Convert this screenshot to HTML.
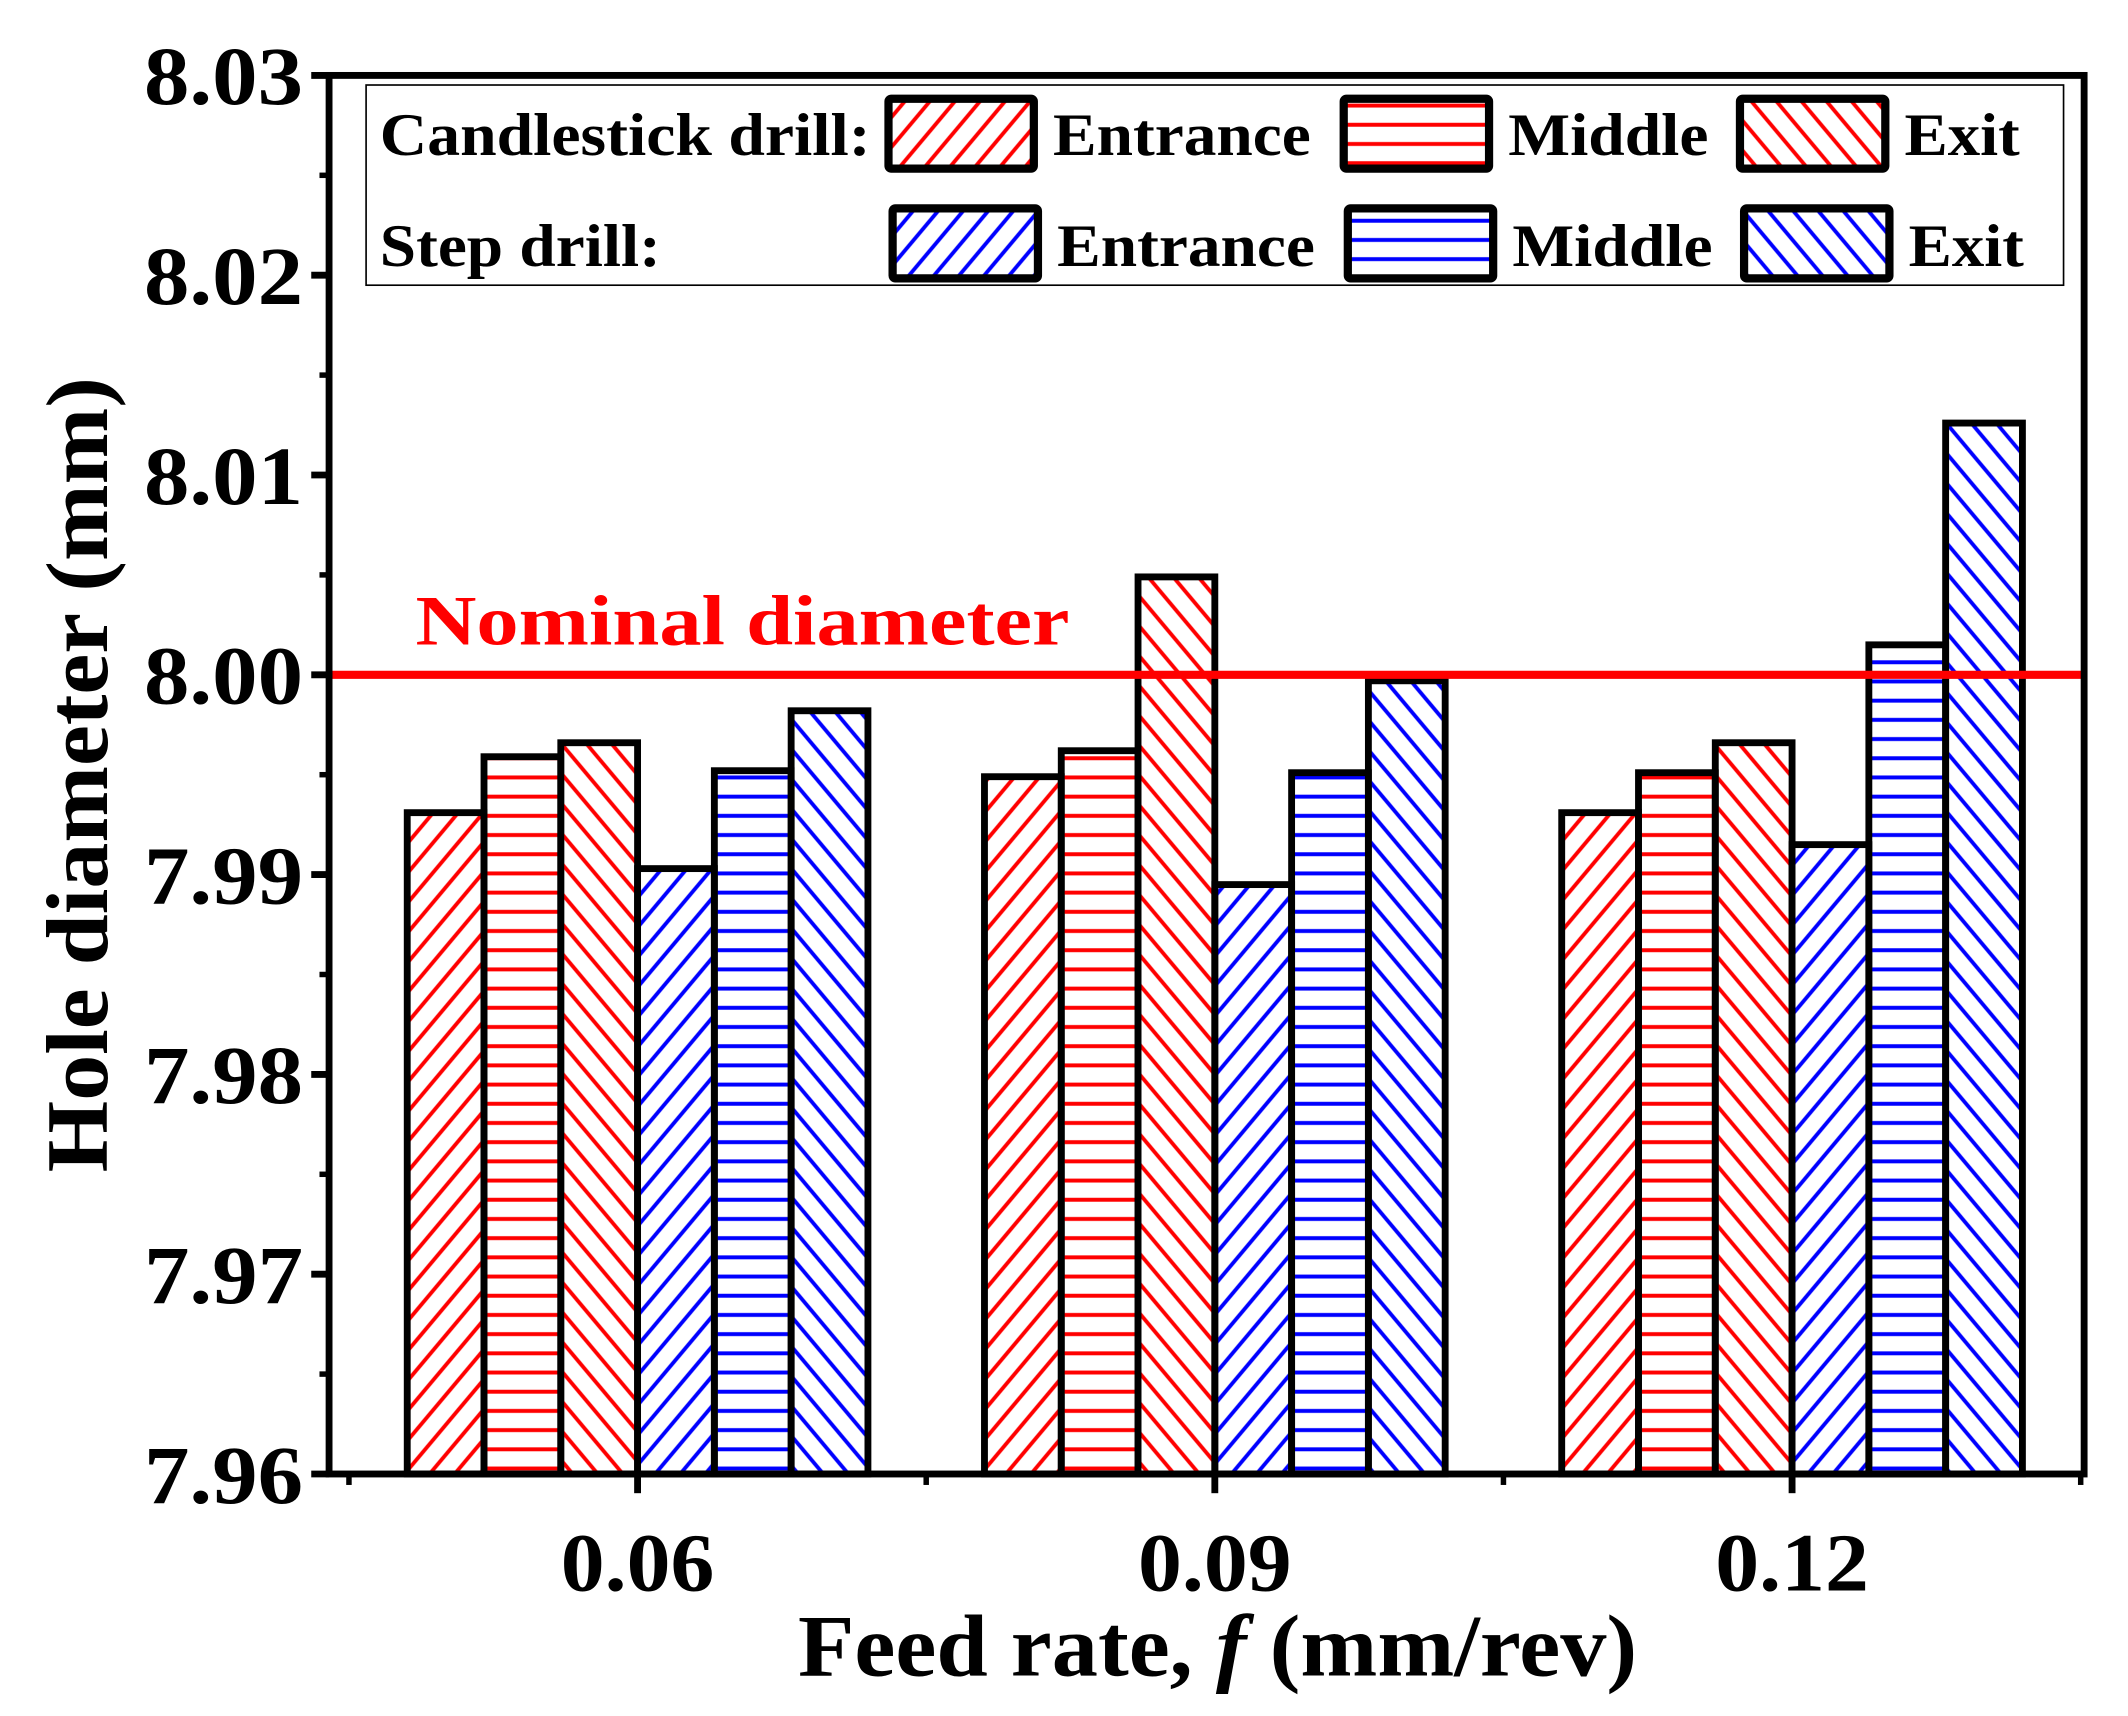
<!DOCTYPE html>
<html><head><meta charset="utf-8"><style>
html,body{margin:0;padding:0;background:#fff;}
svg{display:block;font-family:"Liberation Serif",serif;font-weight:bold;}
</style></head><body>
<svg id="chart" width="2128" height="1716" viewBox="0 0 1552 1251.5" preserveAspectRatio="none" xmlns="http://www.w3.org/2000/svg">
<defs>
<pattern id="pr-fwd" patternUnits="userSpaceOnUse" width="14" height="14" patternTransform="rotate(40)"><line x1="7" y1="0" x2="7" y2="14" stroke="#f00" stroke-width="2.8"/></pattern>
<pattern id="pr-hor" patternUnits="userSpaceOnUse" width="14" height="14"><line x1="0" y1="7" x2="14" y2="7" stroke="#f00" stroke-width="2.8"/></pattern>
<pattern id="pr-back" patternUnits="userSpaceOnUse" width="14" height="14" patternTransform="rotate(-40)"><line x1="7" y1="0" x2="7" y2="14" stroke="#f00" stroke-width="2.8"/></pattern>
<pattern id="pb-fwd" patternUnits="userSpaceOnUse" width="14" height="14" patternTransform="rotate(40)"><line x1="7" y1="0" x2="7" y2="14" stroke="#00f" stroke-width="2.8"/></pattern>
<pattern id="pb-hor" patternUnits="userSpaceOnUse" width="14" height="14"><line x1="0" y1="7" x2="14" y2="7" stroke="#00f" stroke-width="2.8"/></pattern>
<pattern id="pb-back" patternUnits="userSpaceOnUse" width="14" height="14" patternTransform="rotate(-40)"><line x1="7" y1="0" x2="7" y2="14" stroke="#00f" stroke-width="2.8"/></pattern>
</defs>
<g id="bars"></g>
<line id="nomline" x1="240" x2="1520" stroke="#f00" stroke-width="6"/>
<text x="303" y="470" font-size="52" fill="#f00" textLength="477" lengthAdjust="spacingAndGlyphs">Nominal diameter</text>
<g id="axes"></g>
<g>
<rect x="267" y="62" width="1238" height="146" fill="none" stroke="#000" stroke-width="1.2"/>
<text x="277" y="113" font-size="44" textLength="358" lengthAdjust="spacingAndGlyphs">Candlestick drill:</text>
<text x="277" y="194" font-size="44" textLength="205" lengthAdjust="spacingAndGlyphs">Step drill:</text>
<rect x="648" y="72" width="106" height="51" fill="url(#pr-fwd)" stroke="#000" stroke-width="6" rx="2"/>
<rect x="980" y="72" width="106" height="51" fill="url(#pr-hor)" stroke="#000" stroke-width="6" rx="2"/>
<rect x="1269" y="72" width="106" height="51" fill="url(#pr-back)" stroke="#000" stroke-width="6" rx="2"/>
<rect x="651" y="152" width="106" height="51" fill="url(#pb-fwd)" stroke="#000" stroke-width="6" rx="2"/>
<rect x="983" y="152" width="106" height="51" fill="url(#pb-hor)" stroke="#000" stroke-width="6" rx="2"/>
<rect x="1272" y="152" width="106" height="51" fill="url(#pb-back)" stroke="#000" stroke-width="6" rx="2"/>
<text x="768" y="113" font-size="44" textLength="188" lengthAdjust="spacingAndGlyphs">Entrance</text>
<text x="1100" y="113" font-size="44" textLength="146" lengthAdjust="spacingAndGlyphs">Middle</text>
<text x="1389" y="113" font-size="44" textLength="84" lengthAdjust="spacingAndGlyphs">Exit</text>
<text x="771" y="194" font-size="44" textLength="188" lengthAdjust="spacingAndGlyphs">Entrance</text>
<text x="1103" y="194" font-size="44" textLength="146" lengthAdjust="spacingAndGlyphs">Middle</text>
<text x="1392" y="194" font-size="44" textLength="84" lengthAdjust="spacingAndGlyphs">Exit</text>
</g>
<text x="582" y="1222" font-size="64" textLength="612" lengthAdjust="spacingAndGlyphs">Feed rate, <tspan font-style="italic">f</tspan> (mm/rev)</text>
<text transform="translate(78,565) rotate(-90)" font-size="64" text-anchor="middle" textLength="580" lengthAdjust="spacingAndGlyphs">Hole diameter (mm)</text>
</svg>
<script>
const categories = ["0.06", "0.09", "0.12"];
const seriesNames = ["candle-entrance","candle-middle","candle-exit","step-entrance","step-middle","step-exit"];
const candleEntrance = [7.9931, 7.9949, 7.9931];
const candleMiddle = [7.9959, 7.9962, 7.9951];
const candleExit = [7.9966, 8.0049, 7.9966];
const stepEntrance = [7.9903, 7.9895, 7.9915];
const stepMiddle = [7.9952, 7.9951, 8.0015];
const stepExit = [7.9982, 7.9997, 8.0126];
const yTicks = ["7.96","7.97","7.98","7.99","8.00","8.01","8.02","8.03"];
const nominal = 8.00;

const NS = "http://www.w3.org/2000/svg";
const L = 240, R = 1520, T = 55, B = 1075;
const yMin = 7.96, yMax = 8.03;
function yScale(v){ return B - (v - yMin) / (yMax - yMin) * (B - T); }
function xScale(i){ return 465 + i * 421; }
const barW = 56;
const fills = ["url(#pr-fwd)","url(#pr-hor)","url(#pr-back)","url(#pb-fwd)","url(#pb-hor)","url(#pb-back)"];
const series = [candleEntrance, candleMiddle, candleExit, stepEntrance, stepMiddle, stepExit];
function mk(tag, attrs, parent){ const e = document.createElementNS(NS, tag); for (const k in attrs) e.setAttribute(k, attrs[k]); parent.appendChild(e); return e; }

const bars = document.getElementById("bars");
categories.forEach((c, i) => {
  series.forEach((s, j) => {
    const x = xScale(i) - 3 * barW + j * barW;
    const y = yScale(s[i]);
    const r = mk("rect", {x: x, y: y, width: barW, height: B - y, fill: fills[j], stroke: "#000", "stroke-width": 5}, bars);
    
    
  });
});

const nl = document.getElementById("nomline");
nl.setAttribute("y1", yScale(nominal));
nl.setAttribute("y2", yScale(nominal));

const axes = document.getElementById("axes");
mk("rect", {x: L, y: T, width: R - L, height: B - T, fill: "none", stroke: "#000", "stroke-width": 5}, axes);
yTicks.forEach((t, i) => {
  const y = yScale(parseFloat(t));
  mk("line", {x1: L - 13, x2: L, y1: y, y2: y, stroke: "#000", "stroke-width": 5}, axes);
  if (i < yTicks.length - 1) {
    const ym = yScale(parseFloat(t) + 0.005);
    mk("line", {x1: L - 7, x2: L, y1: ym, y2: ym, stroke: "#000", "stroke-width": 4}, axes);
  }
  const tx = mk("text", {x: 105, y: y + 21, "font-size": 60, textLength: 116, lengthAdjust: "spacingAndGlyphs"}, axes);
  tx.textContent = t;
  
  
});
categories.forEach((c, i) => {
  const x = xScale(i);
  mk("line", {x1: x, x2: x, y1: B, y2: B + 14, stroke: "#000", "stroke-width": 5}, axes);
  const tx = mk("text", {x: x - 56, y: 1160, "font-size": 60, textLength: 112, lengthAdjust: "spacingAndGlyphs"}, axes);
  tx.textContent = c;
  
  
});
[xScale(0) - 210.5, xScale(0) + 210.5, xScale(1) + 210.5, xScale(2) + 210.5].forEach(x => {
  mk("line", {x1: x, x2: x, y1: B, y2: B + 8, stroke: "#000", "stroke-width": 4}, axes);
});
</script>
</body></html>
